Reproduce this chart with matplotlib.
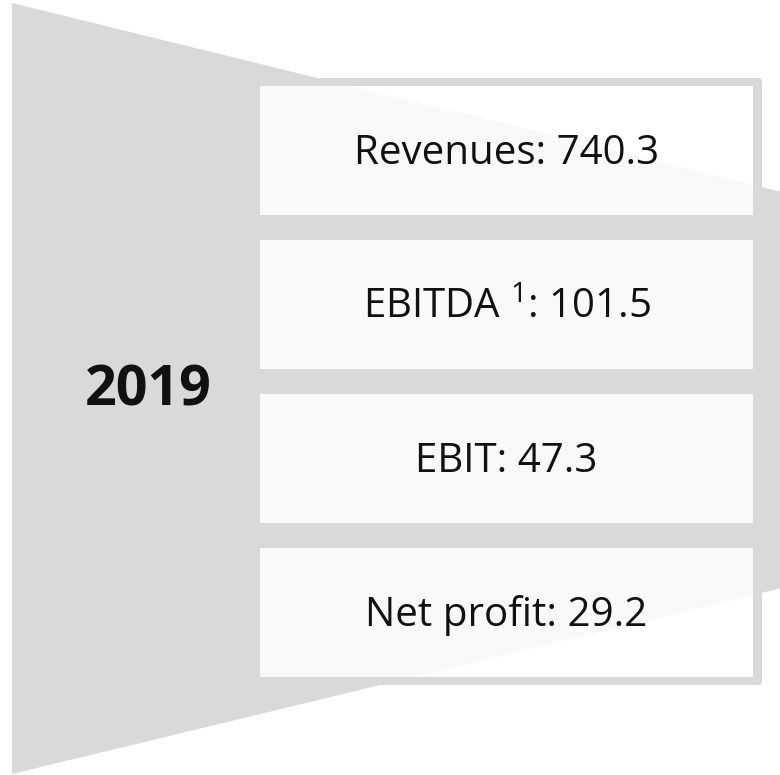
import matplotlib
matplotlib.use("Agg")
import matplotlib.pyplot as plt
from matplotlib.patches import Polygon, Rectangle, FancyBboxPatch

# data shown on the cards
year = "2019"
labels = ["Revenues", "EBITDA", "EBIT", "Net profit"]
values = [740.3, 101.5, 47.3, 29.2]
footnotes = ["", "1", "", ""]

plt.rcParams["font.family"] = ["Open Sans", "DejaVu Sans"]
plt.rcParams["mathtext.fontset"] = "custom"
plt.rcParams["mathtext.rm"] = "Open Sans"

W, H = 780, 775
GRAY = "#d9d9d9"
SHADE = "#f9f9f9"
INK = "#111111"

fig = plt.figure(figsize=(W / 100, H / 100), dpi=100)
ax = fig.add_axes([0, 0, 1, 1])
ax.set_xlim(0, W)
ax.set_ylim(H, 0)
ax.axis("off")

# funnel shape in the background
funnel = [(12, 3), (790, 194), (790, 586), (12, 774)]
ax.add_patch(Polygon(funnel, closed=True, facecolor=GRAY, edgecolor="none", zorder=0))

# gray panel holding the cards
ax.add_patch(FancyBboxPatch((200, 78), 562, 607, boxstyle="round,pad=0,rounding_size=4",
                            facecolor=GRAY, edgecolor="none", zorder=1))

box_x, box_w = 260, 493
box_top, box_h, gap = 86, 129, 25

for i, (lab, val, fn) in enumerate(zip(labels, values, footnotes)):
    y0 = box_top + i * (box_h + gap)
    box = Rectangle((box_x, y0), box_w, box_h, facecolor="white", edgecolor="none", zorder=2)
    ax.add_patch(box)
    # faint continuation of the funnel over the card
    shade = Polygon(funnel, closed=True, facecolor=SHADE, edgecolor="none", zorder=3)
    ax.add_patch(shade)
    shade.set_clip_path(box)
    if fn:
        txt = f"{lab} $^{{\\mathrm{{{fn}}}}}$: {val}"
    else:
        txt = f"{lab}: {val}"
    ax.text(box_x + box_w / 2, y0 + box_h / 2 + 13, txt, ha="center", va="baseline",
            fontsize=29, color=INK, zorder=4)

ax.text(148, 391, year, ha="center", va="center", fontsize=40, fontweight="bold",
        color=INK, zorder=4)

fig.savefig("out.png", dpi=100, facecolor="white")
